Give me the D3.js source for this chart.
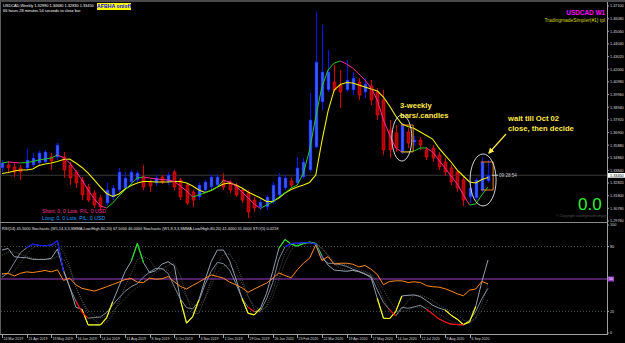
<!DOCTYPE html>
<html><head><meta charset="utf-8">
<script src="https://cdn.jsdelivr.net/npm/d3@7"></script>
<style>
html,body{margin:0;padding:0;background:#000;overflow:hidden}
svg{display:block}
text{font-family:"Liberation Sans",Arial,sans-serif}
</style></head><body>
<svg id="chart" width="625" height="343"></svg>
<script>
// weekly USDCAD candles, Mar 2019 .. Sep 2020
var opens = [1.3404,1.3428,1.3412,1.3404,1.3404,1.3428,1.3444,1.3452,1.3492,1.3492,
 1.3492,1.3428,1.3371,1.3307,1.3250,1.3202,1.3162,1.3121,1.3170,1.3226,
 1.3242,1.3291,1.3307,1.3331,1.3291,1.3283,1.3331,1.3291,1.3371,1.3307,
 1.3266,1.3210,1.3170,1.3226,1.3250,1.3266,1.3307,1.3291,1.3266,1.3226,
 1.3202,1.3145,1.3089,1.3089,1.3129,1.3186,1.3242,1.3299,1.3283,1.3331,
 1.3387,1.3573,1.3936,1.4033,1.4097,1.4073,1.4033,1.4033,1.4097,1.4016,
 1.4065,1.4016,1.3952,1.3710,1.3686,1.3533,1.3694,1.3613,1.3629,1.3549,
 1.3565,1.3508,1.3452,1.3404,1.3371,1.3307,1.3170,1.3162,1.3226,1.3299];
var highs = [1.3468,1.3460,1.3444,1.3428,1.3557,1.3525,1.3541,1.3549,1.3525,1.3605,
 1.3533,1.3452,1.3387,1.3331,1.3275,1.3226,1.3186,1.3283,1.3266,1.3404,
 1.3371,1.3387,1.3379,1.3428,1.3307,1.3347,1.3347,1.3371,1.3387,1.3323,
 1.3283,1.3226,1.3283,1.3307,1.3347,1.3355,1.3363,1.3307,1.3283,1.3242,
 1.3226,1.3170,1.3154,1.3186,1.3291,1.3363,1.3347,1.3323,1.3492,1.3484,
 1.4008,1.4662,1.4557,1.4355,1.4234,1.4194,1.4274,1.4178,1.4129,1.4129,
 1.4113,1.4049,1.4033,1.3791,1.3750,1.3766,1.3726,1.3662,1.3654,1.3573,
 1.3589,1.3533,1.3484,1.3428,1.3387,1.3331,1.3283,1.3323,1.3492,1.3468];
var lows = [1.3371,1.3371,1.3331,1.3307,1.3387,1.3412,1.3428,1.3444,1.3387,1.3468,
 1.3323,1.3266,1.3242,1.3145,1.3129,1.3081,1.3065,1.3105,1.3145,1.3210,
 1.3226,1.3266,1.3283,1.3226,1.3210,1.3258,1.3275,1.3266,1.3226,1.3145,
 1.3105,1.3089,1.3145,1.3202,1.3226,1.3242,1.3226,1.3202,1.3170,1.3121,
 1.3000,1.3049,1.3065,1.3065,1.3113,1.3170,1.3226,1.3242,1.3266,1.3315,
 1.3371,1.3565,1.3871,1.4016,1.4016,1.3887,1.4016,1.3992,1.3952,1.3968,
 1.3912,1.3791,1.3508,1.3484,1.3533,1.3516,1.3565,1.3581,1.3549,1.3468,
 1.3452,1.3387,1.3339,1.3266,1.3210,1.3097,1.3121,1.3145,1.3210,1.3283];
var closes = [1.3444,1.3404,1.3371,1.3371,1.3468,1.3484,1.3525,1.3533,1.3460,1.3589,
 1.3387,1.3323,1.3283,1.3186,1.3145,1.3105,1.3089,1.3226,1.3242,1.3371,
 1.3323,1.3371,1.3363,1.3250,1.3258,1.3323,1.3291,1.3347,1.3250,1.3170,
 1.3121,1.3145,1.3266,1.3291,1.3331,1.3331,1.3250,1.3226,1.3186,1.3145,
 1.3049,1.3081,1.3129,1.3170,1.3266,1.3331,1.3323,1.3266,1.3404,1.3452,
 1.3791,1.4258,1.4178,1.4178,1.4033,1.4016,1.4113,1.4129,1.3992,1.4081,
 1.3952,1.3831,1.3549,1.3549,1.3565,1.3750,1.3605,1.3629,1.3589,1.3492,
 1.3484,1.3412,1.3371,1.3291,1.3242,1.3145,1.3242,1.3307,1.3452,1.3345];

// slow line (yellow) and fast line (green up / magenta down)
var slowLine = [1.3359,1.3367,1.3379,1.3387,1.3387,1.3396,1.3424,1.3436,1.3444,1.3456,
 1.3472,1.3476,1.3444,1.3408,1.3363,1.3307,1.3250,1.3198,1.3174,1.3194,
 1.3234,1.3262,1.3283,1.3295,1.3295,1.3291,1.3291,1.3291,1.3295,1.3295,
 1.3283,1.3258,1.3226,1.3206,1.3222,1.3250,1.3275,1.3283,1.3266,1.3242,
 1.3210,1.3186,1.3162,1.3133,1.3133,1.3162,1.3202,1.3230,1.3250,1.3266,
 1.3287,1.3347,1.3621,1.3863,1.4033,1.4077,1.4093,1.4089,1.4073,1.4057,
 1.4041,1.4025,1.3976,1.3904,1.3823,1.3758,1.3738,1.3722,1.3694,1.3666,
 1.3637,1.3565,1.3508,1.3452,1.3387,1.3339,1.3291,1.3283,1.3311,1.3327];
var fastLine = [1.3444,1.3452,1.3448,1.3444,1.3448,1.3456,1.3468,1.3476,1.3484,1.3508,
 1.3488,1.3444,1.3379,1.3307,1.3226,1.3154,1.3097,1.3081,1.3121,1.3178,
 1.3226,1.3275,1.3323,1.3331,1.3323,1.3315,1.3311,1.3307,1.3295,1.3258,
 1.3218,1.3170,1.3186,1.3202,1.3226,1.3250,1.3303,1.3291,1.3258,1.3210,
 1.3162,1.3113,1.3077,1.3105,1.3129,1.3170,1.3202,1.3242,1.3266,1.3363,
 1.3549,1.3815,1.4057,1.4194,1.4250,1.4266,1.4242,1.4210,1.4162,1.4113,
 1.4049,1.3952,1.3791,1.3670,1.3565,1.3533,1.3533,1.3541,1.3565,1.3565,
 1.3533,1.3468,1.3404,1.3339,1.3275,1.3186,1.3105,1.3113,1.3186,1.3250];

// lower window
var rsi = [54.6,55.3,52.8,55.3,56.6,56.0,56.9,57.9,56.6,58.5,
 48.7,50.8,44.7,41.3,40.1,38.8,40.7,42.8,45.0,47.1,
 49.5,50.5,47.1,46.8,50.8,49.8,50.2,52.3,47.4,43.2,
 40.7,44.1,47.1,50.5,53.8,52.3,50.8,47.1,44.7,41.9,
 37.6,40.7,43.5,46.2,50.5,55.7,53.2,51.1,58.5,64.6,
 69.2,81.5,67.1,70.8,63.7,64.6,64.6,63.7,61.2,62.5,
 59.1,54.2,44.7,47.7,48.3,48.3,46.8,47.4,46.8,43.8,
 42.8,42.5,41.0,38.8,36.3,34.5,39.7,40.7,47.7,45.5];
var stochFast = [76.8,78.3,70.6,70.0,69.7,68.2,68.2,68.2,69.1,77.7,
 58.3,42.6,23.8,22.0,7.5,7.5,7.5,14.0,29.1,42.9,
 56.8,66.3,82.9,65.1,55.8,57.7,63.8,66.0,62.3,30.6,
 9.1,15.2,30.6,49.1,66.0,76.8,76.8,66.9,50.6,32.2,
 18.3,16.8,22.9,36.8,56.8,78.3,86.6,82.3,80.5,82.9,
 84.2,82.9,71.2,62.9,58.3,57.7,57.1,58.0,56.8,54.6,
 51.2,32.2,13.7,13.4,19.8,34.3,34.9,35.2,33.7,30.0,
 25.7,23.2,21.4,16.5,12.8,7.8,10.3,24.5,47.5,67.5];
var stochSlow = [51.5,55.8,65.1,74.3,78.9,82.3,81.1,80.8,81.4,85.4,
 57.1,42.3,29.7,19.2,13.7,14.3,14.9,18.9,26.0,32.5,
 38.6,42.9,45.7,51.8,56.5,59.8,59.8,55.2,42.9,31.5,
 23.5,22.3,29.4,44.8,57.1,65.4,64.2,58.3,46.0,32.2,
 23.8,19.8,20.5,31.5,46.6,68.2,79.8,82.9,83.2,83.5,
 83.8,82.3,68.8,64.5,64.5,63.2,61.7,59.2,57.1,54.6,
 52.5,39.8,28.2,21.7,15.8,23.8,22.9,24.2,25.7,22.0,
 17.7,13.1,10.3,8.2,7.8,7.5,11.8,19.8,31.8,41.4];
var signalFast = [72,75,75,73,71,69,68,68,68,71,68,60,42,30,18,12,8,10,17,29,
 43,55,68,71,68,59,59,63,64,53,34,18,18,32,49,64,73,73,65,50,
 34,22,19,25,39,57,74,82,83,82,83,83,79,72,64,60,58,58,57,56,
 54,46,32,20,16,22,30,35,35,33,30,26,23,20,17,12,10,14,27,46];
var signalSlow = [55,54,57,65,73,79,81,81,81,82,75,62,43,30,21,16,14,16,20,26,
 32,38,42,46,51,56,59,58,52,43,33,26,25,32,44,56,62,63,56,46,
 34,25,21,24,33,49,65,77,82,83,83,83,78,72,66,64,63,61,59,57,
 55,49,40,30,22,20,21,24,24,24,22,18,14,11,9,8,9,13,21,31];

var priceTicks = [1.47100,1.46080,1.45060,1.44040,1.43020,1.42000,1.40980,1.39960,1.38940,
 1.37920,1.36900,1.35880,1.34860,1.33840,1.32820,1.31800,1.30780,1.29760];
var dateTicks = ["24 Mar 2019","21 Apr 2019","19 May 2019","16 Jun 2019","14 Jul 2019","11 Aug 2019",
 "8 Sep 2019","6 Oct 2019","3 Nov 2019","1 Dec 2019","29 Dec 2019","26 Jan 2020","23 Feb 2020",
 "22 Mar 2020","19 Apr 2020","17 May 2020","14 Jun 2020","12 Jul 2020","9 Aug 2020","6 Sep 2020"];
var dateTickIdx = [0,4,8,12,16,20,24,28,32,36,40,44,48,52,56,60,64,68,72,76];
var oscTicks = [100,80,50,20,0];
var boxCandles = [65,78];   // bodies marked with orange range lines

var svg = d3.select("#chart");
var W = 625, H = 343, axisX = 607;

var x = d3.scaleLinear().domain([0, 79]).range([2, 488]);
var y = d3.scaleLinear().domain([1.471, 1.2976]).range([6, 221]);
var yo = d3.scaleLinear().domain([0, 100]).range([333, 225]);

svg.append("rect").attr("width", W).attr("height", H).attr("fill", "#000");

// frame
svg.append("rect").attr("x", 0).attr("y", 0).attr("width", W).attr("height", 2).attr("fill", "#4a4a4a");
svg.append("line").attr("x1", 0.5).attr("x2", 0.5).attr("y1", 2).attr("y2", 335).attr("stroke", "#5a5a5a");
svg.append("line").attr("x1", 0).attr("x2", axisX).attr("y1", 222.5).attr("y2", 222.5).attr("stroke", "#8a8a8a");
svg.append("line").attr("x1", axisX + 0.5).attr("x2", axisX + 0.5).attr("y1", 2).attr("y2", 335).attr("stroke", "#a0a0a0");
svg.append("line").attr("x1", 0).attr("x2", axisX + 1).attr("y1", 334.5).attr("y2", 334.5).attr("stroke", "#a0a0a0");

var last = closes.length - 1;
// current price line
svg.append("line").attr("x1", 1).attr("x2", axisX).attr("y1", y(closes[last])).attr("y2", y(closes[last]))
  .attr("stroke", "#3a3a3a");

// price axis
var pa = svg.append("g");
priceTicks.forEach(function (p) {
  pa.append("line").attr("x1", axisX).attr("x2", axisX + 2).attr("y1", y(p)).attr("y2", y(p)).attr("stroke", "#a0a0a0");
  pa.append("text").attr("x", axisX + 3).attr("y", y(p) + 1.4).attr("fill", "#d8d8d8")
    .attr("font-size", 3.8).text(p.toFixed(5));
});
pa.append("rect").attr("x", axisX + 1).attr("y", y(closes[last]) - 2.3).attr("width", 17).attr("height", 4.8).attr("fill", "#fff");
pa.append("text").attr("x", axisX + 3).attr("y", y(closes[last]) + 1.4).attr("fill", "#000")
  .attr("font-size", 3.8).text(closes[last].toFixed(5));

// candles
var idx = d3.range(closes.length);
var candles = svg.append("g");
idx.forEach(function (i) {
  var up = closes[i] >= opens[i];
  var cx = Math.round(x(i)) + 0.5;
  candles.append("line").attr("x1", cx).attr("x2", cx).attr("y1", y(highs[i])).attr("y2", y(lows[i]))
    .attr("stroke", up ? "#0a14ff" : "#d40000").attr("stroke-width", 1);
  var top = y(Math.max(opens[i], closes[i])), bot = y(Math.min(opens[i], closes[i]));
  candles.append("rect").attr("x", cx - 1.5).attr("y", top).attr("width", 3).attr("height", Math.max(1, bot - top))
    .attr("fill", up ? "#3a5cff" : "#b00000").attr("stroke", up ? "#0010ff" : "#ff1a1a").attr("stroke-width", 0.5);
});

// moving lines
var line = d3.line().x(function (d) { return x(d[0]); }).y(function (d) { return y(d[1]); });
svg.append("path").attr("d", line(slowLine.map(function (v, i) { return [i, v]; })))
  .attr("fill", "none").attr("stroke", "#f2f200").attr("stroke-width", 1.1);
for (var i = 1; i < fastLine.length; i++) {
  svg.append("line").attr("x1", x(i - 1)).attr("y1", y(fastLine[i - 1])).attr("x2", x(i)).attr("y2", y(fastLine[i]))
    .attr("stroke", fastLine[i] >= fastLine[i - 1] ? "#22cc22" : "#ff2a9a").attr("stroke-width", 1);
}

// orange range lines
boxCandles.forEach(function (i) {
  var t = y(Math.max(opens[i], closes[i])), b = y(Math.min(opens[i], closes[i]));
  var x0 = x(i) - 1, x1 = x(i + 2) - 1;
  svg.append("path").attr("d", "M" + x0 + "," + t + "H" + x1 + "V" + b + "H" + x0)
    .attr("fill", "none").attr("stroke", "#ff9020").attr("stroke-width", 0.9);
});

// ellipses
svg.append("ellipse").attr("cx", x(65)).attr("cy", y(1.3645)).attr("rx", 10).attr("ry", 23)
  .attr("fill", "none").attr("stroke", "#e8e8e8").attr("stroke-width", 0.9);
svg.append("ellipse").attr("cx", x(78.2)).attr("cy", y(1.3307)).attr("rx", 13).attr("ry", 26)
  .attr("fill", "none").attr("stroke", "#e8e8e8").attr("stroke-width", 0.9);

// annotations
var ann = svg.append("g").attr("fill", "#ffe94a").attr("font-family", "'Liberation Serif','Times New Roman',serif")
  .attr("font-weight", "bold").attr("font-size", 7.6);
ann.append("text").attr("x", 400).attr("y", 107.5).text("3-weekly");
ann.append("text").attr("x", 400).attr("y", 118).text("bars/.candles");
ann.append("text").attr("x", 508).attr("y", 120.5).text("wait till Oct 02");
ann.append("text").attr("x", 508).attr("y", 131).text("close, then decide");
svg.append("defs").append("marker").attr("id", "ah").attr("viewBox", "0 0 10 10").attr("refX", 8).attr("refY", 5)
  .attr("markerWidth", 5).attr("markerHeight", 5).attr("orient", "auto")
  .append("path").attr("d", "M0,0L10,5L0,10z").attr("fill", "#ffe94a");
svg.append("line").attr("x1", 506).attr("y1", 134).attr("x2", 489).attr("y2", 153)
  .attr("stroke", "#ffe94a").attr("stroke-width", 1.2).attr("marker-end", "url(#ah)");

// countdown
svg.append("line").attr("x1", x(last) + 4).attr("x2", x(last) + 10).attr("y1", y(closes[last])).attr("y2", y(closes[last]))
  .attr("stroke", "#c8c8c8");
svg.append("text").attr("x", x(last) + 11).attr("y", y(closes[last]) + 1.6).attr("fill", "#c8c8c8")
  .attr("font-size", 4.6).text("09:28:54");

// header texts
svg.append("text").attr("x", 3).attr("y", 6.5).attr("fill", "#fff").attr("font-size", 3.9)
  .text("USDCAD,Weekly  " + [opens[last], highs[last], lows[last], closes[last]].map(function (v) { return v.toFixed(5); }).join(" "));
svg.append("text").attr("x", 3).attr("y", 11.5).attr("fill", "#fff").attr("font-size", 3.9)
  .text("66 hours 28 minutes 54 seconds to close bar");
svg.append("rect").attr("x", 97).attr("y", 3).attr("width", 34).attr("height", 7).attr("fill", "#ffff00");
svg.append("text").attr("x", 114).attr("y", 8.4).attr("text-anchor", "middle").attr("fill", "#0000ff")
  .attr("font-weight", "bold").attr("font-size", 5.2).text("AFBHA on/off");
svg.append("text").attr("x", 605).attr("y", 15).attr("text-anchor", "end").attr("fill", "#ff00ff")
  .attr("font-weight", "bold").attr("font-size", 6.4).text("USDCAD W1");
svg.append("text").attr("x", 605).attr("y", 21.5).attr("text-anchor", "end").attr("fill", "#d6d600")
  .attr("font-size", 4.9).text("TradingmadeSimpler(#1) tpl");
svg.append("text").attr("x", 42).attr("y", 213).attr("fill", "#ff3399").attr("font-size", 5.2)
  .text("Short: 0, 0 Lots, P/L: 0 USD");
svg.append("text").attr("x", 42).attr("y", 220).attr("fill", "#1ea0ff").attr("font-size", 5.2)
  .text("Long: 0, 0 Lots, P/L: 0 USD");
svg.append("text").attr("x", 578).attr("y", 210).attr("fill", "#33ee33").attr("font-size", 17).text("0.0");
svg.append("text").attr("x", 556).attr("y", 217).attr("fill", "#555").attr("font-size", 3.6).attr("font-style", "italic")
  .text("© Copyright tradingmadesimpler");

// oscillator window
var og = svg.append("g");
[80, 20].forEach(function (v) {
  og.append("line").attr("x1", 1).attr("x2", axisX).attr("y1", yo(v)).attr("y2", yo(v))
    .attr("stroke", "#3d5a55").attr("stroke-dasharray", "1,2");
});
og.append("line").attr("x1", 1).attr("x2", axisX).attr("y1", yo(50)).attr("y2", yo(50)).attr("stroke", "#9a3ccc");
oscTicks.forEach(function (v) {
  og.append("line").attr("x1", axisX).attr("x2", axisX + 2).attr("y1", yo(v)).attr("y2", yo(v)).attr("stroke", "#a0a0a0");
  if (v === 50) {
    og.append("rect").attr("x", axisX + 1).attr("y", yo(v) - 2.5).attr("width", 6).attr("height", 5).attr("fill", "#9a3ccc");
    og.append("text").attr("x", axisX + 1.8).attr("y", yo(v) + 1.4).attr("fill", "#fff").attr("font-size", 3.8).text(v);
  } else {
    og.append("text").attr("x", axisX + 3).attr("y", yo(v) + 1.4).attr("fill", "#d8d8d8").attr("font-size", 3.8).text(v);
  }
});
var oline = d3.line().x(function (d, i) { return x(i); }).y(function (d) { return yo(d); });
og.append("path").attr("d", oline(signalSlow)).attr("fill", "none").attr("stroke", "#5a5a5a")
  .attr("stroke-width", 0.8).attr("stroke-dasharray", "1,1.2");
og.append("path").attr("d", oline(signalFast)).attr("fill", "none").attr("stroke", "#6a6a6a")
  .attr("stroke-width", 0.8).attr("stroke-dasharray", "1,1.2");
og.append("path").attr("d", oline(stochSlow)).attr("fill", "none").attr("stroke", "#8896a6").attr("stroke-width", 0.9);
og.append("path").attr("d", oline(stochFast)).attr("fill", "none").attr("stroke", "#a3afbd").attr("stroke-width", 0.9);

function overlay(vals, hiCol, loCol, fallingOnly) {
  for (var i = 1; i < vals.length; i++) {
    var a = vals[i - 1], b = vals[i], col = null;
    if (Math.max(a, b) > 80) col = hiCol;
    if (Math.min(a, b) < 20 && (!fallingOnly || b < a)) col = loCol;
    if (col) og.append("line").attr("x1", x(i - 1)).attr("y1", yo(a)).attr("x2", x(i)).attr("y2", yo(b))
      .attr("stroke", col).attr("stroke-width", 1.1);
  }
}
overlay(stochFast, "#19e619", "#ffff00", false);
overlay(stochSlow, "#0a14ff", "#ff0000", true);
og.append("path").attr("d", oline(rsi)).attr("fill", "none").attr("stroke", "#ff8a1e").attr("stroke-width", 1);

svg.append("text").attr("x", 2).attr("y", 229.5).attr("fill", "#e0e0e0").attr("font-size", 3.9)
  .text("RSI(14) " + rsi[last].toFixed(4) + "   Stochastic (W1,14,3,3,SMMA,Low/High,80,20) " + stochFast[last].toFixed(4) + " " +
    signalFast[last].toFixed(4) + "   Stochastic (W1,8,3,3,SMMA,Low/High,80,20) " + stochSlow[last].toFixed(4) + " " +
    signalSlow[last].toFixed(4) + "   STO(5) 0.0218");

// time axis
var ta = svg.append("g");
dateTicks.forEach(function (lab, k) {
  var tx = Math.round(x(dateTickIdx[k])) + 0.5;
  ta.append("line").attr("x1", tx).attr("x2", tx).attr("y1", 335).attr("y2", 338).attr("stroke", "#a0a0a0");
  ta.append("text").attr("x", tx + 1).attr("y", 340).attr("fill", "#d8d8d8").attr("font-size", 3.5).text(lab);
});
</script>
</body></html>
